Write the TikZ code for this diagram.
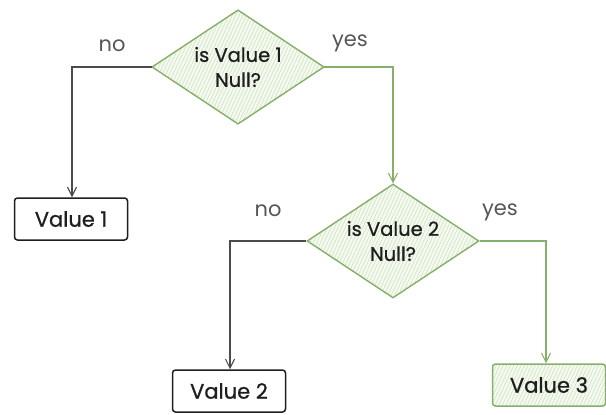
\documentclass[tikz,border=0pt]{standalone}
\usepackage{fontspec}
\setmainfont{Poppins}[FakeBold=0.8]
\usetikzlibrary{shapes.geometric,arrows.meta,patterns.meta}
\definecolor{leaf}{HTML}{86B06A}
\definecolor{leafhatch}{HTML}{C9DEB9}
\definecolor{leafbg}{HTML}{F5FAF1}
\definecolor{ink}{HTML}{1E1E1E}
\tikzset{
  hatched/.style={preaction={fill=leafbg},
    pattern={Lines[angle=65,distance=3.2pt,line width=0.5pt]}, pattern color=leafhatch},
  decision/.style={diamond, draw=leaf, line width=1.4pt, hatched, inner sep=0pt,
    minimum width=172pt, minimum height=114pt},
  question/.style={align=center, text=ink, font=\fontsize{19.5}{25}\selectfont},
  valuebox/.style={rectangle, draw=ink, line width=1.5pt, rounded corners=3pt,
    minimum width=113pt, minimum height=42pt, text=ink, font=\fontsize{21}{24}\selectfont},
  greenbox/.style={valuebox, draw=leaf, hatched},
  link/.style={line width=1.1pt, -{Straight Barb[length=9pt,width=9pt,line width=1.1pt]}},
  blacklink/.style={link, draw=ink!80},
  greenlink/.style={link, draw=leaf},
  answer/.style={text=ink!75, font=\fontsize{21}{24}\selectfont\fontspec{Poppins}}
}
\begin{document}
\begin{tikzpicture}[x=1pt,y=-1pt]
  \useasboundingbox (0,0) rectangle (606,415);

  % decisions: the diamond keeps its size, the question sits on top of it
  \node[decision] (d1) at (238,67) {};
  \node[question] (q1) at (d1.center) {is Value 1\\Null?};
  \node[decision] (d2) at (393,241) {};
  \node[question] (q2) at (d2.center) {is Value 2\\Null?};

  % outcomes
  \node[valuebox] (v1) at (71,219) {Value 1};
  \node[valuebox] (v2) at (229,391) {Value 2};
  \node[greenbox] (v3) at (549,385) {Value 3};

  % branches of the first decision
  \draw[blacklink] (d1.west) -| ([xshift=1pt]v1.north);
  \draw[greenlink] (d1.east) -| (d2.north);

  % branches of the second decision
  \draw[blacklink] (d2.west) -| ([xshift=1pt]v2.north);
  \draw[greenlink] (d2.east) -| ([xshift=-3pt]v3.north);

  % branch labels
  \node[answer] (no1) at (112,46) {no};
  \node[answer] (yes1) at (350,43) {yes};
  \node[answer] (no2) at (268,211) {no};
  \node[answer] (yes2) at (500,212) {yes};
\end{tikzpicture}
\end{document}
